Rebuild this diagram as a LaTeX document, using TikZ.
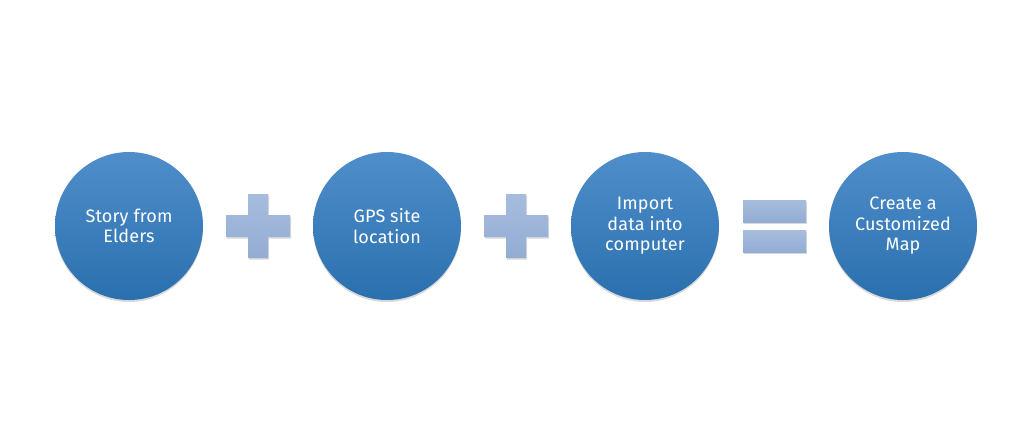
\documentclass[tikz,border=0pt]{standalone}
\usepackage{fontspec}
\setmainfont{Fira Sans}
\usetikzlibrary{shadows}
\definecolor{circtop}{HTML}{4F8ECA}
\definecolor{circbot}{HTML}{2A70AE}
\definecolor{optop}{HTML}{A7BDDF}
\definecolor{opbot}{HTML}{93ACD3}
\tikzset{
  stepcircle/.style={circle, minimum size=148pt, inner sep=0pt, top color=circtop, bottom color=circbot,
    draw=none, text=white, align=center, font=\fontsize{18}{20.5}\selectfont\addfontfeatures{LetterSpace=1},
    drop shadow={shadow xshift=0pt, shadow yshift=-2pt, opacity=0.25, fill=black!60}},
  opbar/.style={inner sep=0pt, draw=none, top color=optop, bottom color=opbot,
    drop shadow={shadow xshift=1pt, shadow yshift=-1.5pt, opacity=0.3, fill=black!50}}
}
\begin{document}
\begin{tikzpicture}[x=1pt,y=-1pt]
\useasboundingbox[fill=white] (0,0) rectangle (1030,433);
\node[stepcircle] (c1) at (129,226) {Story from\\Elders};
\node[stepcircle] (c2) at (387,226) {GPS site\\location};
\node[stepcircle] (c3) at (645,226) {Import\\data into\\computer};
\node[stepcircle] (c4) at (903,226) {Create a\\Customized\\Map};
% plus 1
\path[opbar] (248,194) -- (268,194) -- (268,215) -- (290,215) -- (290,237) -- (268,237) -- (268,258) -- (248,258) -- (248,237) -- (226,237) -- (226,215) -- (248,215) -- cycle;
% plus 2
\path[opbar] (506,194) -- (526,194) -- (526,215) -- (548,215) -- (548,237) -- (526,237) -- (526,258) -- (506,258) -- (506,237) -- (484,237) -- (484,215) -- (506,215) -- cycle;
% equals
\node[opbar, minimum width=63pt, minimum height=22pt] (eqtop) at (774.5,211) {};
\node[opbar, minimum width=63pt, minimum height=22pt] (eqbot) at (774.5,241.5) {};
\end{tikzpicture}
\end{document}
